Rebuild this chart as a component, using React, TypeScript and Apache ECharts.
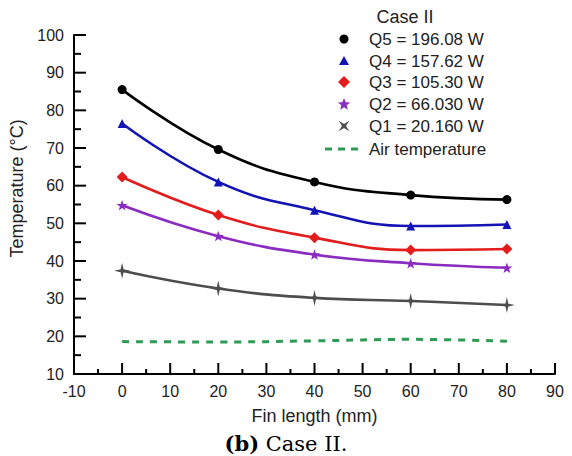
import React, { useEffect, useRef } from "react";
import * as echarts from "echarts";

const finLength = [0, 20, 40, 60, 80];
const q5 = [85.5, 69.6, 61.0, 57.5, 56.3];
const q4 = [76.5, 61.0, 53.5, 49.3, 49.7];
const q3 = [62.3, 52.2, 46.2, 42.9, 43.2];
const q2 = [54.8, 46.6, 41.7, 39.4, 38.2];
const q1 = [37.4, 32.7, 30.2, 29.4, 28.3];
const air = [18.6, 18.5, 18.8, 19.2, 18.7];

const xTickValues = [-10, -5, 0, 5, 10, 15, 20, 25, 30, 35, 40, 45, 50, 55, 60, 65, 70, 75, 80, 85, 90];
const yTickValues = [10, 15, 20, 25, 30, 35, 40, 45, 50, 55, 60, 65, 70, 75, 80, 85, 90, 95, 100];

const seriesNames = [
  "Q5 = 196.08 W",
  "Q4 = 157.62 W",
  "Q3 = 105.30 W",
  "Q2 = 66.030 W",
  "Q1 = 20.160 W",
  "Air temperature",
];
const legendTitle = "Case II";
const xTitle = "Fin length (mm)";
const yTitle = "Temperature (°C)";

const STAR =
  "path://M0,-10 L2.35,-3.24 L9.51,-3.09 L3.80,1.24 L5.88,8.09 L0,4 L-5.88,8.09 L-3.80,1.24 L-9.51,-3.09 L-2.35,-3.24 Z";
const SPARKLE =
  "path://M0,-10 L1.8,-1.8 L10,0 L1.8,1.8 L0,10 L-1.8,1.8 L-10,0 L-1.8,-1.8 Z";

const colors = ["#000000", "#1414b4", "#e31c1c", "#8a2cc0", "#4d4d4d", "#2e9a55"];
const AX = "#000";

function pts(cx: number, cy: number, R: number, r: number, n: number, rot: number) {
  const out: number[][] = [];
  for (let i = 0; i < 2 * n; i++) {
    const a = rot + (i * Math.PI) / n;
    const rad = i % 2 === 0 ? R : r;
    out.push([cx + rad * Math.sin(a), cy - rad * Math.cos(a)]);
  }
  return out;
}

export default function App() {
  const ref = useRef<HTMLDivElement>(null);
  useEffect(() => {
    if (!ref.current) return;
    const chart = echarts.init(ref.current, null, { renderer: "svg" });
    const pair = (ys: number[]) => finLength.map((x, i) => [x, ys[i]]);
    const mk = (
      name: string,
      ys: number[],
      color: string,
      symbol: string,
      size: number
    ) => ({
      name,
      type: "line",
      data: pair(ys),
      smooth: 0.45,
      symbol,
      symbolSize: size,
      symbolKeepAspect: true,
      lineStyle: { color, width: 2.6 },
      itemStyle: { color },
      z: 3,
    });
    const font = "'Liberation Sans', Arial, sans-serif";
    const legendX = 369;
    const markX = 344;
    const rows = [39, 61, 82, 104, 126, 149];
    const xMin = -10;
    const yMin = 10;
    chart.setOption({
      animation: false,
      grid: { left: 74, right: 17, top: 35, bottom: 82 },
      title: {
        text: "{b|(b)}{n| Case II.}",
        left: "center",
        top: 428,
        textStyle: {
          fontWeight: "normal",
          rich: {
            b: { fontFamily: "'DejaVu Serif', serif", fontWeight: "bold", fontSize: 21, color: "#000" },
            n: { fontFamily: "'DejaVu Serif', serif", fontWeight: "normal", fontSize: 21, color: "#000" },
          },
        },
      },
      xAxis: {
        type: "value",
        min: -10,
        max: 90,
        interval: 10,
        name: xTitle,
        nameLocation: "middle",
        nameGap: 33,
        nameTextStyle: { fontFamily: font, fontSize: 18, color: "#222" },
        axisLine: { show: true, onZero: false, lineStyle: { color: AX, width: 2 } },
        axisTick: { show: false },
        axisLabel: { fontFamily: font, fontSize: 16, color: "#222", margin: 9 },
        splitLine: { show: false },
      },
      yAxis: {
        type: "value",
        min: 10,
        max: 100,
        interval: 10,
        name: yTitle,
        nameLocation: "middle",
        nameGap: 37,
        nameTextStyle: { fontFamily: font, fontSize: 18, color: "#222", padding: [0, 0, 0, 32] },
        axisLine: { show: true, onZero: false, lineStyle: { color: AX, width: 2 } },
        axisTick: { show: false },
        axisLabel: { fontFamily: font, fontSize: 16, color: "#222", margin: 10 },
        splitLine: { show: false },
      },
      series: [
        mk(seriesNames[0], q5, colors[0], "circle", 9),
        mk(seriesNames[1], q4, colors[1], "triangle", 9),
        mk(seriesNames[2], q3, colors[2], "diamond", 11),
        mk(seriesNames[3], q2, colors[3], STAR, 11),
        mk(seriesNames[4], q1, colors[4], SPARKLE, 16),
        {
          name: seriesNames[5],
          type: "line",
          data: pair(air),
          smooth: 0.45,
          showSymbol: false,
          symbol: "none",
          lineStyle: { color: colors[5], width: 3, type: [7, 7] },
          z: 2,
        },
        {
          name: "x ticks",
          type: "custom",
          clip: false,
          silent: true,
          z: 4,
          data: xTickValues.map((v) => [v, yMin]),
          renderItem: (params: any, api: any) => {
            const v = api.value(0);
            const p = api.coord([v, api.value(1)]);
            const len = v % 10 === 0 ? 11 : 5;
            return {
              type: "line",
              shape: { x1: p[0], y1: p[1], x2: p[0], y2: p[1] - len },
              style: { stroke: AX, lineWidth: 2 },
            };
          },
        },
        {
          name: "y ticks",
          type: "custom",
          clip: false,
          silent: true,
          z: 4,
          data: yTickValues.map((v) => [xMin, v]),
          renderItem: (params: any, api: any) => {
            const v = api.value(1);
            const p = api.coord([api.value(0), v]);
            const len = v % 10 === 0 ? 12 : 7;
            return {
              type: "line",
              shape: { x1: p[0], y1: p[1], x2: p[0] + len, y2: p[1] },
              style: { stroke: AX, lineWidth: 2 },
            };
          },
        },
      ],
      graphic: [
        {
          type: "text",
          x: 405,
          y: 17,
          style: { text: legendTitle, font: `18px ${font}`, fill: "#222", align: "center", verticalAlign: "middle" },
        },
        { type: "circle", shape: { cx: markX, cy: rows[0], r: 4.5 }, style: { fill: colors[0] } },
        {
          type: "polygon",
          shape: { points: [[markX, rows[1] - 5], [markX + 5, rows[1] + 4], [markX - 5, rows[1] + 4]] },
          style: { fill: colors[1] },
        },
        {
          type: "polygon",
          shape: { points: [[markX, rows[2] - 6], [markX + 6, rows[2]], [markX, rows[2] + 6], [markX - 6, rows[2]]] },
          style: { fill: colors[2] },
        },
        {
          type: "polygon",
          shape: { points: pts(markX, rows[3] + 0.5, 6.5, 2.8, 5, 0) },
          style: { fill: colors[3] },
        },
        {
          type: "polygon",
          shape: { points: pts(markX, rows[4], 7.5, 2, 4, Math.PI / 4) },
          style: { fill: colors[4] },
        },
        {
          type: "line",
          shape: { x1: 325, y1: rows[5], x2: 362, y2: rows[5] },
          style: { stroke: colors[5], lineWidth: 3, lineDash: [7, 6] },
        },
        ...seriesNames.map((s, i) => ({
          type: "text",
          x: legendX,
          y: rows[i],
          style: { text: s, font: `17px ${font}`, fill: "#222", verticalAlign: "middle", align: "left" },
        })),
      ],
    });
    return () => chart.dispose();
  }, []);
  return (
    <div
      ref={ref}
      style={{ position: "fixed", left: 0, top: 0, width: 572, height: 456, background: "#fff" }}
    />
  );
}
